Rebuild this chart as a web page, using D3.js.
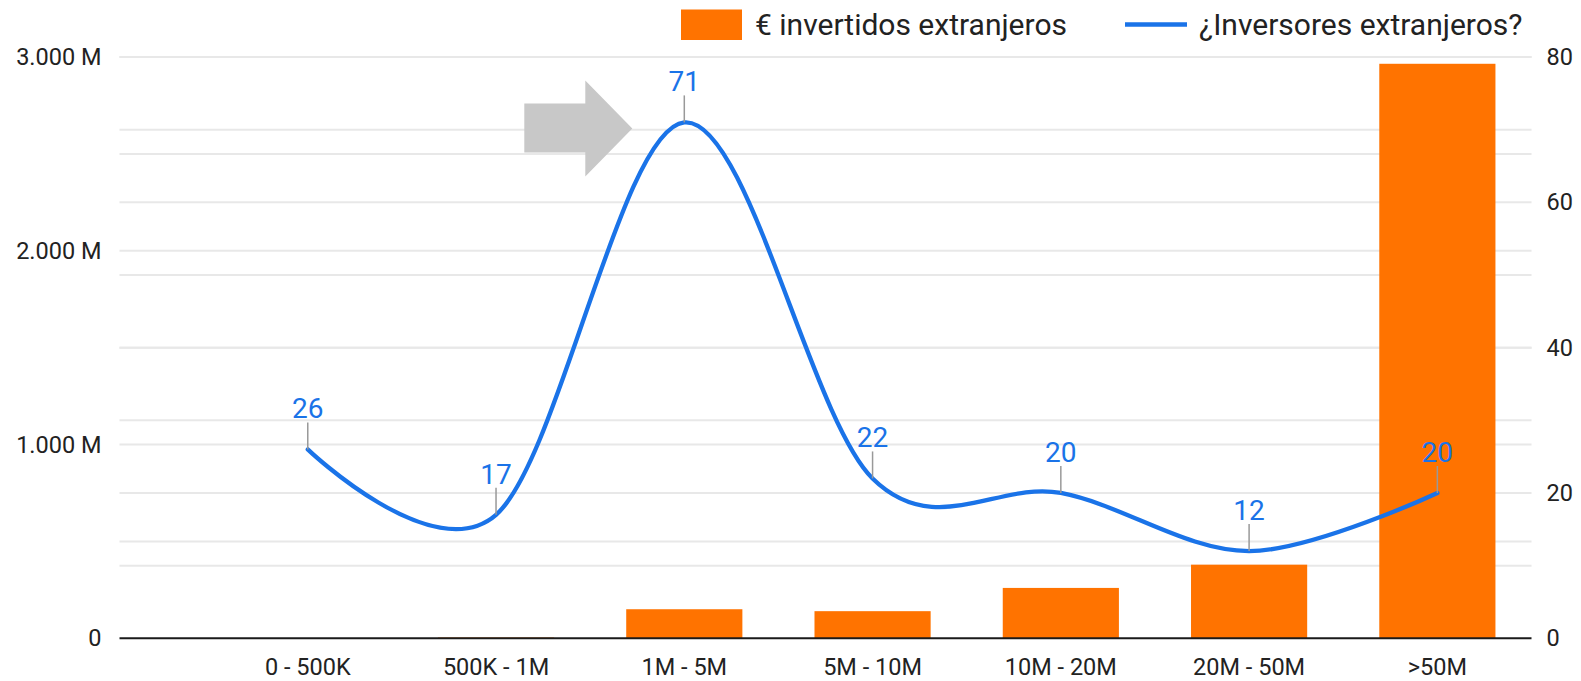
<!DOCTYPE html>
<html>
<head>
<meta charset="utf-8">
<script src="https://cdn.jsdelivr.net/npm/d3@7"></script>
<style>
  html, body { margin: 0; padding: 0; background: #fff; }
  svg { display: block; font-family: Roboto, "Noto Sans", sans-serif; }
</style>
</head>
<body>
<svg id="chart" width="1581" height="681"></svg>
<script>
// ---- data ----
const categories = ["0 - 500K", "500K - 1M", "1M - 5M", "5M - 10M", "10M - 20M", "20M - 50M", ">50M"];
const investedMillions = [0, 4, 150, 140, 260, 380, 2965];
const foreignInvestors = [26, 17, 71, 22, 20, 12, 20];
const leftTicks = [0, 1000, 2000, 3000];
const leftGrid = [500, 1000, 1500, 2000, 2500, 3000];
const rightTicks = [0, 20, 40, 60, 80];
const rightGrid = [10, 20, 30, 40, 50, 60, 70, 80];
const seriesNames = ["€ invertidos extranjeros", "¿Inversores extranjeros?"];

// ---- layout ----
const W = 1581, H = 681;
const plotLeft = 119.5, plotRight = 1531.5, plotTop = 57, plotBottom = 638.3;
const orange = "#ff7300", blue = "#1a73e8";

const svg = d3.select("#chart");

const step = (plotRight - plotLeft) / 7.5;
const x = d3.scaleBand()
  .domain(categories)
  .range([plotLeft + step / 2, plotRight])
  .paddingInner(0.383)
  .paddingOuter(0.1915);
const cx = c => x(c) + x.bandwidth() / 2;

const yL = d3.scaleLinear().domain([0, 3000]).range([plotBottom, plotTop]);
const yR = d3.scaleLinear().domain([0, 80]).range([plotBottom, plotTop]);

const loc = d3.formatLocale({ decimal: ",", thousands: ".", grouping: [3], currency: ["", "€"] });
const fmtL = v => v === 0 ? "0" : loc.format(",d")(v) + " M";

// gridlines
const gridG = svg.append("g");
const gridVals = [...leftGrid.map(v => yL(v)), ...rightGrid.map(v => yR(v))];
gridG.selectAll("line").data(gridVals).join("line")
  .attr("x1", plotLeft).attr("x2", plotRight)
  .attr("y1", d => d).attr("y2", d => d)
  .attr("stroke", "#e8e8e8").attr("stroke-width", 2);

// left axis
const leftAxis = svg.append("g").attr("transform", `translate(${plotLeft},0)`)
  .call(d3.axisLeft(yL).tickValues(leftTicks).tickFormat(fmtL).tickSize(0).tickPadding(18));
leftAxis.select(".domain").remove();
leftAxis.selectAll("text").attr("font-size", 23.5).attr("fill", "#222")
  .attr("font-family", "Roboto");

// right axis
const rightAxis = svg.append("g").attr("transform", `translate(${plotRight},0)`)
  .call(d3.axisRight(yR).tickValues(rightTicks).tickSize(0).tickPadding(15));
rightAxis.select(".domain").remove();
rightAxis.selectAll("text").attr("font-size", 23.5).attr("fill", "#222")
  .attr("font-family", "Roboto");

// bars
svg.append("g").selectAll("rect").data(categories).join("rect")
  .attr("x", d => x(d))
  .attr("width", x.bandwidth())
  .attr("y", (d, i) => yL(investedMillions[i]))
  .attr("height", (d, i) => yL(0) - yL(investedMillions[i]))
  .attr("fill", orange);

// bottom axis
const bottomAxis = svg.append("g").attr("transform", `translate(0,${plotBottom})`)
  .call(d3.axisBottom(x).tickSize(0).tickPadding(20));
bottomAxis.select(".domain").remove();
bottomAxis.selectAll("text").attr("font-size", 23.5).attr("fill", "#222")
  .attr("font-family", "Roboto");
svg.append("line")
  .attr("x1", plotLeft).attr("x2", plotRight)
  .attr("y1", yL(0)).attr("y2", yL(0))
  .attr("stroke", "#1a1a1a").attr("stroke-width", 2);

// arrow annotation (decorative shape)
const arrowShape = [[-160, -19], [-99, -19], [-99, -42], [-52, 6], [-99, 54], [-99, 30], [-160, 30]];
const ax0 = cx("1M - 5M"), ay0 = yR(foreignInvestors[2]);
svg.append("path")
  .attr("d", d3.line()(arrowShape.map(p => [ax0 + p[0], ay0 + p[1]])) + "Z")
  .attr("fill", "#c8c8c8");

// line
const pts = categories.map((c, i) => [cx(c), yR(foreignInvestors[i])]);
svg.append("path")
  .attr("d", d3.line().curve(d3.curveCardinal.tension(0))(pts))
  .attr("fill", "none").attr("stroke", blue).attr("stroke-width", 4.3)
  .attr("stroke-linecap", "round").attr("stroke-linejoin", "round");

// data labels with stems
const lab = svg.append("g");
lab.selectAll("line").data(pts).join("line")
  .attr("x1", d => d[0]).attr("x2", d => d[0])
  .attr("y1", d => d[1]).attr("y2", d => d[1] - 27)
  .attr("stroke", "#999").attr("stroke-width", 1.5);
lab.selectAll("text").data(pts).join("text")
  .attr("x", d => d[0]).attr("y", d => d[1] - 31)
  .attr("text-anchor", "middle")
  .attr("font-size", 28).attr("fill", blue)
  .text((d, i) => foreignInvestors[i]);

// legend
const leg = svg.append("g");
leg.append("rect").attr("x", 681).attr("y", 9.5).attr("width", 61).attr("height", 30.5).attr("fill", orange);
leg.append("text").attr("x", 755).attr("y", 34.5)
  .attr("font-size", 30).attr("fill", "#222").text(seriesNames[0]);
leg.append("line").attr("x1", 1125).attr("x2", 1187).attr("y1", 24.5).attr("y2", 24.5)
  .attr("stroke", blue).attr("stroke-width", 4.5);
leg.append("text").attr("x", 1199).attr("y", 34.5)
  .attr("font-size", 30).attr("fill", "#222").text(seriesNames[1]);
</script>
</body>
</html>
